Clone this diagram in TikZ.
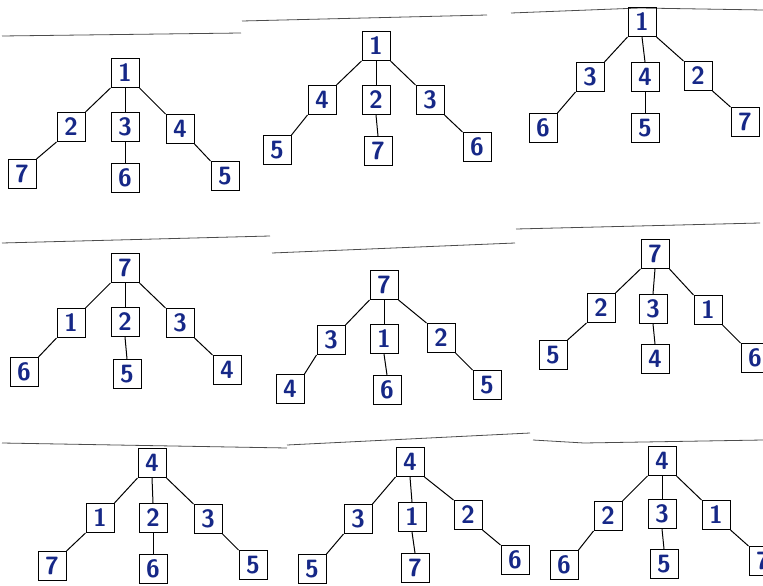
\documentclass[tikz,border=0pt]{standalone}
\usepackage{tikz}
\usetikzlibrary{positioning}
\definecolor{tinta}{RGB}{22,40,135}
\tikzset{
  caja/.style={draw=black,line width=1pt,minimum width=28pt,minimum height=29pt,inner sep=0pt,text=tinta,font=\sffamily\bfseries\fontsize{25}{27}\selectfont},
  rama/.style={black,line width=1pt},
  corte/.style={gray!60!black,line width=0.8pt}
}
\begin{document}
\begin{tikzpicture}[x=1pt,y=-1pt]
\useasboundingbox (0,0) rectangle (763,586);
\clip (0,0) rectangle (763,586);
% lineas de corte del papel
\draw[corte] (2,36)--(241,33);
\draw[corte] (242,21)--(487,15);
\draw[corte] (511,13)--(640,8)--(763,10);
\draw[corte] (516,229)--(760,223);
\draw[corte] (2,243)--(270,236);
\draw[corte] (272,253)--(515,243);
\draw[corte] (2,443)--(287,448);
\draw[corte] (287,445)--(530,433);
\draw[corte] (533,440)--(584,443)--(763,440);
% arbol 1
\node[caja] (t1r) at (125,73) {1};
\node[caja] (t1a) at (71,127) {2};
\node[caja] (t1b) at (125,127) {3};
\node[caja] (t1c) at (180,129) {4};
\node[caja] (t1d) at (22,174) {7};
\node[caja] (t1e) at (125,178) {6};
\node[caja] (t1f) at (225,176) {5};
% arbol 2
\node[caja] (t2r) at (376,46) {1};
\node[caja] (t2a) at (322,100) {4};
\node[caja] (t2b) at (376,100) {2};
\node[caja] (t2c) at (430,100) {3};
\node[caja] (t2d) at (277,150) {5};
\node[caja] (t2e) at (378,151) {7};
\node[caja] (t2f) at (477,147) {6};
% arbol 3
\node[caja] (t3r) at (642,22) {1};
\node[caja] (t3a) at (590,77) {3};
\node[caja] (t3b) at (645,77) {4};
\node[caja] (t3c) at (698,76) {2};
\node[caja] (t3d) at (543,128) {6};
\node[caja] (t3e) at (645,128) {5};
\node[caja] (t3f) at (745,122) {7};
% arbol 4
\node[caja] (t4r) at (125,268) {7};
\node[caja] (t4a) at (71,323) {1};
\node[caja] (t4b) at (125,322) {2};
\node[caja] (t4c) at (180,323) {3};
\node[caja] (t4d) at (24,372) {6};
\node[caja] (t4e) at (127,374) {5};
\node[caja] (t4f) at (227,370) {4};
% arbol 5
\node[caja] (t5r) at (384,285) {7};
\node[caja] (t5a) at (331,340) {3};
\node[caja] (t5b) at (384,339) {1};
\node[caja] (t5c) at (441,338) {2};
\node[caja] (t5d) at (290,389) {4};
\node[caja] (t5e) at (387,390) {6};
\node[caja] (t5f) at (487,385) {5};
% arbol 6
\node[caja] (t6r) at (655,254) {7};
\node[caja] (t6a) at (601,308) {2};
\node[caja] (t6b) at (653,309) {3};
\node[caja] (t6c) at (708,310) {1};
\node[caja] (t6d) at (553,355) {5};
\node[caja] (t6e) at (655,359) {4};
\node[caja] (t6f) at (755,358) {6};
% arbol 7
\node[caja] (t7r) at (152,463) {4};
\node[caja] (t7a) at (100,518) {1};
\node[caja] (t7b) at (153,518) {2};
\node[caja] (t7c) at (208,519) {3};
\node[caja] (t7d) at (52,566) {7};
\node[caja] (t7e) at (153,569) {6};
\node[caja] (t7f) at (253,565) {5};
% arbol 8
\node[caja] (t8r) at (410,462) {4};
\node[caja] (t8a) at (358,519) {3};
\node[caja] (t8b) at (412,517) {1};
\node[caja] (t8c) at (468,515) {2};
\node[caja] (t8d) at (312,569) {5};
\node[caja] (t8e) at (415,568) {7};
\node[caja] (t8f) at (515,560) {6};
% arbol 9
\node[caja] (t9r) at (662,461) {4};
\node[caja] (t9a) at (608,516) {2};
\node[caja] (t9b) at (662,514) {3};
\node[caja] (t9c) at (716,515) {1};
\node[caja] (t9d) at (564,565) {6};
\node[caja] (t9e) at (664,564) {5};
\node[caja] (t9f) at (763,561) {7};
% ramas
\foreach \n in {1,...,9}{
  \draw[rama] (t\n r.south west)--(t\n a.north east);
  \draw[rama] (t\n r.south)--(t\n b.north);
  \draw[rama] (t\n r.south east)--(t\n c.north west);
  \draw[rama] (t\n a.south west)--(t\n d.north east);
  \draw[rama] (t\n b.south)--(t\n e.north);
  \draw[rama] (t\n c.south east)--(t\n f.north west);
}
\end{tikzpicture}
\end{document}
